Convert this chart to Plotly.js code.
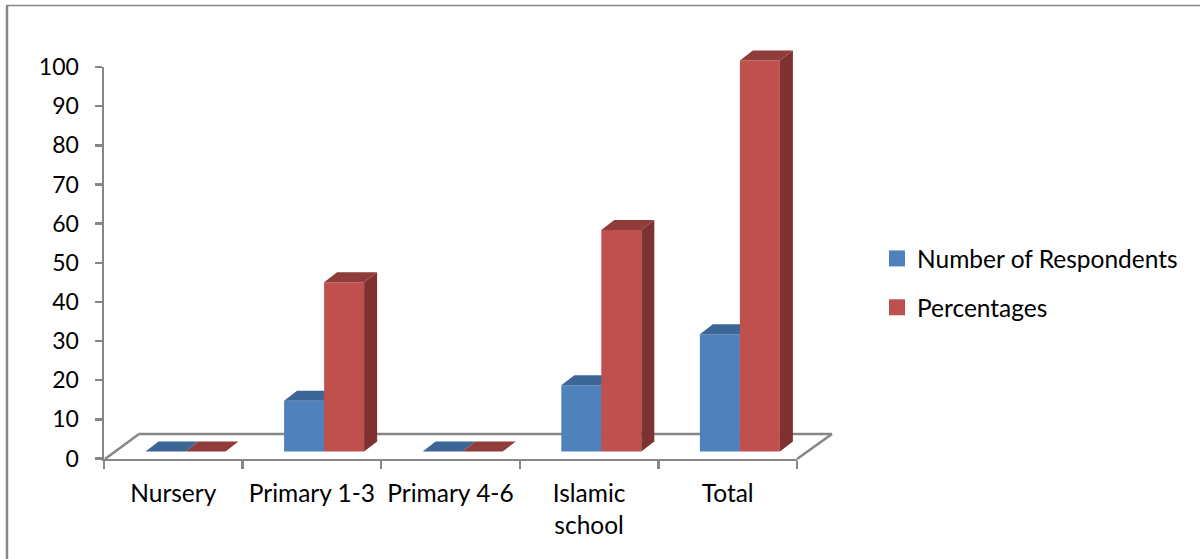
<!DOCTYPE html>
<html>
<head>
<meta charset="utf-8">
<script src="https://cdn.plot.ly/plotly-3.0.1.min.js"></script>
<style>html,body{margin:0;padding:0;background:#fff}</style>
</head>
<body>
<div id="chart" style="width:1200px;height:559px"></div>
<script>
// Respondents by level of schooling
const categories = ["Nursery", "Primary 1-3", "Primary 4-6", "Islamic<br>school", "Total"];
const respondents = [0, 13, 0, 17, 30];
const percentages = [0, 43.3, 0, 56.7, 100];
const valueTicks = [0, 10, 20, 30, 40, 50, 60, 70, 80, 90, 100];

const W = 1200, H = 559;
const FAMILY = "Lato, 'Open Sans', sans-serif";
const FONT = {family: FAMILY, size: 24.5, color: "#000000"};
const VALUE_FONT = {family: FAMILY, size: 23, color: "#000000"};
const AXIS = "#868686";

// Pixel layout of the pseudo-3D plot
const catStep = 138.6, unitPx = 3.91;
const firstGroupPx = 185.5, basePx = 451.6;
const barW = 40 / catStep;
const depthX = 13 / catStep, depthY = 10 / unitPx;

const px = x => x / W, py = y => 1 - y / H;

// Extruded faces of a bar series, in data units of the mark axes
function topFaces(vals, left) {
  const xs = [], ys = [];
  vals.forEach((v, i) => {
    const a = i + left, b = a + barW;
    xs.push(a, b, b + depthX, a + depthX, a, null);
    ys.push(v, v, v + depthY, v + depthY, v, null);
  });
  return {x: xs, y: ys};
}
function sideFaces(vals, left) {
  const xs = [], ys = [];
  vals.forEach((v, i) => {
    if (v <= 0) return;
    const b = i + left + barW;
    xs.push(b, b + depthX, b + depthX, b, b, null);
    ys.push(0, depthY, v + depthY, v, 0, null);
  });
  return {x: xs, y: ys};
}
function polygon(face, color, xa, ya) {
  return {type: "scatter", mode: "lines", x: face.x, y: face.y, xaxis: xa, yaxis: ya,
    fill: "toself", fillcolor: color, line: {width: 0, color: color},
    hoverinfo: "skip", showlegend: false};
}
function bars(vals, left, color, xa, ya, name) {
  return {type: "bar", x: vals.map((_, i) => i), y: vals, width: barW, offset: left,
    xaxis: xa, yaxis: ya, name: name, marker: {color: color, line: {width: 0}}, showlegend: false};
}
function legendEntry(name, color) {
  return {type: "scatter", mode: "markers", name: name, x: categories, y: categories.map(() => null),
    marker: {symbol: "square", size: 16, color: color}, legendgroup: name, xaxis: "x", yaxis: "y"};
}

const BLUE = "#4F81BD", BLUE_TOP = "#3C6696";
const RED = "#C0504D", RED_TOP = "#8F3C3A", RED_SIDE = "#7D3130";

const traces = [
  legendEntry("Number of Respondents", BLUE),
  legendEntry("Percentages", RED),
  polygon(sideFaces(respondents, -barW), "#33557F", "x2", "y2"),
  polygon(topFaces(respondents, -barW), BLUE_TOP, "x2", "y2"),
  bars(respondents, -barW, BLUE, "x2", "y2", "Number of Respondents"),
  polygon(sideFaces(percentages, 0), RED_SIDE, "x3", "y3"),
  polygon(topFaces(percentages, 0), RED_TOP, "x3", "y3"),
  bars(percentages, 0, RED, "x3", "y3", "Percentages")
];

const markX = {domain: [0, 1], range: [-firstGroupPx / catStep, (W - firstGroupPx) / catStep], visible: false, fixedrange: true};
const markY = {domain: [0, 1], range: [(basePx - H) / unitPx, basePx / unitPx], visible: false, fixedrange: true};

function line(x0, y0, x1, y1, width, color) {
  return {type: "line", xref: "paper", yref: "paper", layer: "below",
    x0: px(x0), y0: py(y0), x1: px(x1), y1: py(y1), line: {color: color, width: width}};
}

const layout = {
  width: W, height: H, margin: {l: 0, r: 0, t: 0, b: 0},
  paper_bgcolor: "#ffffff", plot_bgcolor: "rgba(0,0,0,0)",
  font: FONT, showlegend: true, barmode: "overlay",
  xaxis: {type: "category", domain: [px(104), px(797)], range: [-0.5, 4.5], anchor: "y",
    tickson: "boundaries", ticks: "outside", ticklen: 8, tickwidth: 2.5, tickcolor: AXIS,
    showline: true, linecolor: AXIS, linewidth: 2.5, showgrid: false, zeroline: false,
    tickfont: FONT, fixedrange: true, tickangle: 0, ticklabelstandoff: 12},
  yaxis: {domain: [py(458.5), py(67)], range: [0, 100], anchor: "x",
    tickvals: valueTicks, ticks: "outside", ticklen: 7, tickwidth: 2.5, tickcolor: AXIS,
    showline: true, linecolor: AXIS, linewidth: 2.5, showgrid: false, zeroline: false,
    tickfont: VALUE_FONT, fixedrange: true, ticklabelstandoff: 11},
  xaxis2: Object.assign({anchor: "y2"}, markX),
  yaxis2: Object.assign({anchor: "x2"}, markY),
  xaxis3: Object.assign({anchor: "y3", overlaying: "x2"}, markX),
  yaxis3: Object.assign({anchor: "x3", overlaying: "y2"}, markY),
  legend: {x: px(877), y: py(236), xanchor: "left", yanchor: "top",
    font: FONT, tracegroupgap: 14, itemsizing: "trace", bgcolor: "rgba(0,0,0,0)"},
  shapes: [
    // chart frame
    line(7, 559, 7, 5.5, 2.5, AXIS),
    line(6, 5.5, 1200, 5.5, 1.5, AXIS),
    // floor of the plot
    line(105, 459, 139, 434, 2.5, AXIS),
    line(139, 434, 832, 434, 2.5, AXIS),
    line(832, 434, 797, 459, 2.5, AXIS)
  ]
};

Plotly.newPlot("chart", traces, layout, {displayModeBar: false, staticPlot: true});
</script>
</body>
</html>
